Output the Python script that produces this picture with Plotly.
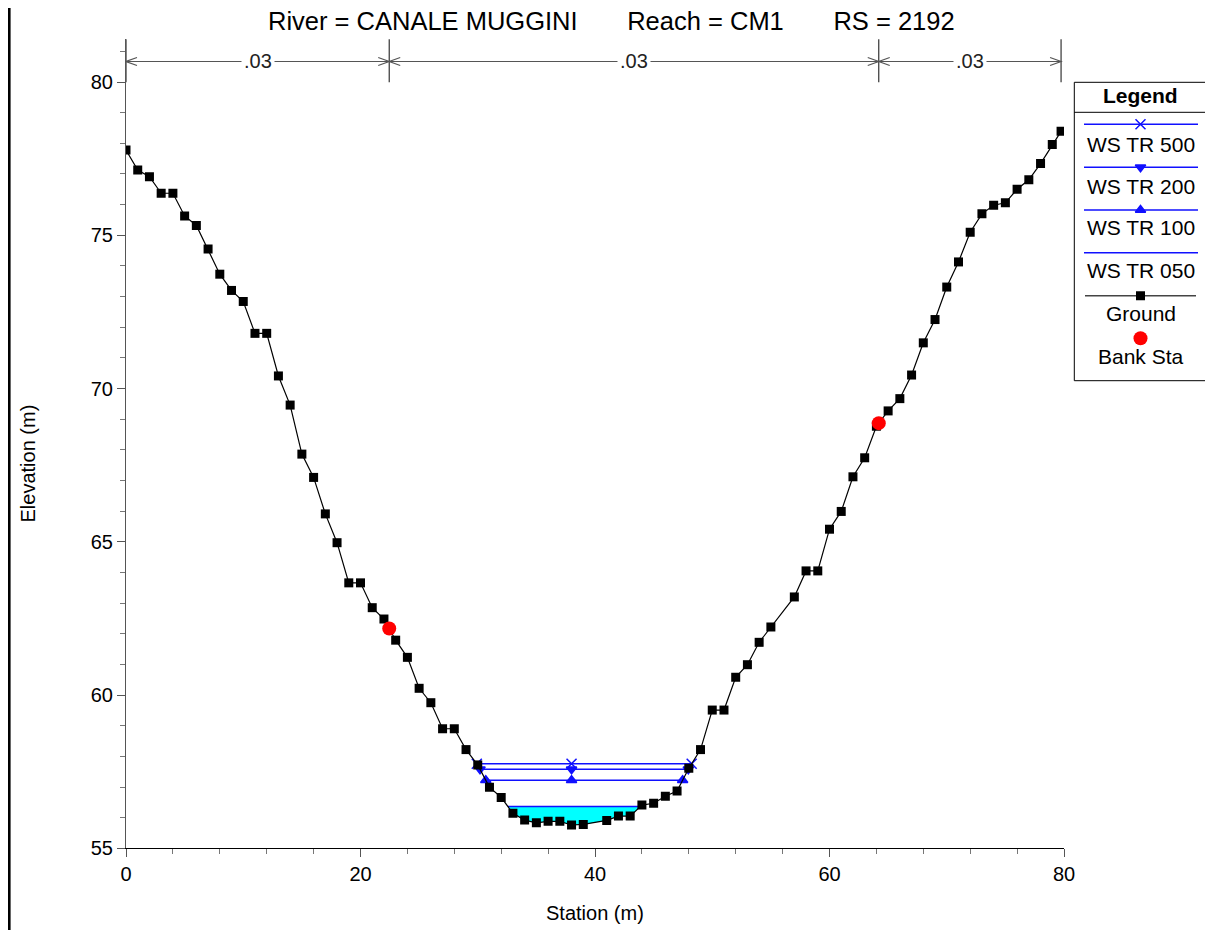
import numpy as np
import plotly.graph_objects as go

# ---------------- data ----------------
ground_sta = [0, 1, 2, 3, 4, 5, 6, 7, 8, 9, 10, 11, 12, 13, 14, 15, 16, 17, 18, 19,
              20, 21, 22, 23, 24, 25, 26, 27, 28, 29, 30, 31, 32, 33, 34, 35, 36, 37, 38, 39,
              41, 42, 43, 44, 45, 46, 47, 48, 49, 50, 51, 52, 53, 54, 55,
              57, 58, 59, 60, 61, 62, 63, 64, 65, 66, 67, 68, 69, 70, 71, 72, 73, 74, 75,
              76, 77, 78, 79, 79.75]
ground_elev = [77.78, 77.13, 76.91, 76.37, 76.37, 75.63, 75.32, 74.55, 73.73, 73.20,
               72.84, 71.80, 71.80, 70.41, 69.46, 67.86, 67.10, 65.91, 64.97, 63.66,
               63.66, 62.85, 62.48, 61.79, 61.23, 60.22, 59.75, 58.90, 58.90, 58.22,
               57.72, 56.99, 56.66, 56.14, 55.92, 55.83, 55.88, 55.88, 55.76, 55.78,
               55.91, 56.05, 56.05, 56.41, 56.47, 56.70, 56.87, 57.61, 58.22, 59.51, 59.51, 60.58, 60.99, 61.72, 62.22,
               63.20, 64.05, 64.05, 65.41, 65.99, 67.12, 67.74, 68.77, 69.27, 69.67, 70.44, 71.49, 72.25, 73.31, 74.13, 75.10, 75.70, 75.98, 76.06,
               76.50, 76.81, 77.34, 77.96, 78.39]

bank_sta = [22.45, 64.2]

ws_names = ["WS TR 500", "WS TR 200", "WS TR 100", "WS TR 050"]
ws_elev = [57.76, 57.58, 57.22, 56.36]
ws_mid_sta = 38.0

n_values = [".03", ".03", ".03"]

title_text = "River = CANALE MUGGINI" + "\u00a0" * 7 + "Reach = CM1" + "\u00a0" * 7 + "RS = 2192"

# ---------------- helpers ----------------
OFF = 8  # page offset of the plot div (default body margin)
PAGE_W, PAGE_H = 1213, 930
W, H = PAGE_W - OFF, PAGE_H - OFF
FONT = "Liberation Sans, Arial, sans-serif"


def pxx(x):
    return (x - OFF) / W


def pyy(y):
    return 1 - (y - OFF) / H


sta = np.array(ground_sta, dtype=float)
z = np.array(ground_elev, dtype=float)


def ws_extent(ws):
    i0 = int(np.argmin(z))
    i = i0
    while i > 0 and z[i] < ws:
        i -= 1
    xl = sta[i] + (z[i] - ws) / (z[i] - z[i + 1]) * (sta[i + 1] - sta[i])
    il = i
    j = i0
    while j < len(z) - 1 and z[j] < ws:
        j += 1
    xr = sta[j - 1] + (ws - z[j - 1]) / (z[j] - z[j - 1]) * (sta[j] - sta[j - 1])
    ir = j
    return xl, xr, il, ir


WS_COLOR = "#1010ff"
ws_symbols = ["x-thin-open", "triangle-down", "triangle-up", None]

fig = go.Figure()

# cyan fill for lowest profile
xl, xr, il, ir = ws_extent(ws_elev[-1])
fx = [xl, xr] + list(sta[il + 1:ir][::-1]) + [xl]
fy = [ws_elev[-1], ws_elev[-1]] + list(z[il + 1:ir][::-1]) + [ws_elev[-1]]
fig.add_trace(go.Scatter(x=fx, y=fy, fill="toself", fillcolor="#00ffff", mode="lines",
                         line=dict(width=0), hoverinfo="skip", showlegend=False))

# water surfaces
for name, ws, sym in zip(ws_names, ws_elev, ws_symbols):
    a, b, _, _ = ws_extent(ws)
    fig.add_trace(go.Scatter(x=[a, b], y=[ws, ws], mode="lines",
                             line=dict(color=WS_COLOR, width=1.5), name=name, showlegend=False))
    if sym:
        fig.add_trace(go.Scatter(x=[a, ws_mid_sta, b], y=[ws, ws, ws], mode="markers",
                                 marker=dict(symbol=sym, size=10 if sym.startswith("x") else 9,
                                             color=WS_COLOR,
                                             line=dict(color=WS_COLOR, width=1.5)),
                                 showlegend=False, hoverinfo="skip"))

# ground
fig.add_trace(go.Scatter(x=ground_sta, y=ground_elev, mode="lines+markers",
                         line=dict(color="black", width=1.2),
                         marker=dict(symbol="square", size=9, color="black"),
                         name="Ground", showlegend=False))

# bank stations
bank_z = np.interp(bank_sta, sta, z)
fig.add_trace(go.Scatter(x=bank_sta, y=bank_z, mode="markers",
                         marker=dict(symbol="circle", size=14, color="#ff0000"),
                         name="Bank Sta", showlegend=False))

# ---------------- legend (drawn in a pixel-space overlay axis) ----------------
LX0, LX1, LY0, LY1 = 1074.3, 1205.7, 82.3, 380.7
CX = 1140.5
leg_line_y = [124.3, 167.3, 210.0, 252.7]
leg_text_y = [144.0, 186.0, 228.0, 270.7]
for name, sym, ly in zip(ws_names, ws_symbols, leg_line_y):
    fig.add_trace(go.Scatter(x=[1084, 1198], y=[ly, ly], mode="lines",
                             line=dict(color=WS_COLOR, width=1.5),
                             xaxis="x2", yaxis="y2", showlegend=False, hoverinfo="skip"))
    if sym:
        fig.add_trace(go.Scatter(x=[CX], y=[ly], mode="markers",
                                 marker=dict(symbol=sym, size=10 if sym.startswith("x") else 9,
                                             color=WS_COLOR, line=dict(color=WS_COLOR, width=1.5)),
                                 xaxis="x2", yaxis="y2", showlegend=False, hoverinfo="skip"))
fig.add_trace(go.Scatter(x=[1085, 1196], y=[295.7, 295.7], mode="lines",
                         line=dict(color="#444444", width=1.5),
                         xaxis="x2", yaxis="y2", showlegend=False, hoverinfo="skip"))
fig.add_trace(go.Scatter(x=[CX], y=[295.7], mode="markers",
                         marker=dict(symbol="square", size=9, color="black"),
                         xaxis="x2", yaxis="y2", showlegend=False, hoverinfo="skip"))
fig.add_trace(go.Scatter(x=[CX], y=[338.3], mode="markers",
                         marker=dict(symbol="circle", size=14, color="#ff0000"),
                         xaxis="x2", yaxis="y2", showlegend=False, hoverinfo="skip"))

annotations = []
shapes = []

LEG_FS = 21
annotations.append(dict(text="<b>Legend</b>", x=pxx(CX), y=pyy(96), xref="paper", yref="paper",
                        showarrow=False, xanchor="center", yanchor="middle",
                        font=dict(family=FONT, size=LEG_FS, color="black")))
for name, ty in zip(ws_names + ["Ground", "Bank Sta"], leg_text_y + [313.3, 356.7]):
    annotations.append(dict(text=name, x=pxx(CX), y=pyy(ty), xref="paper", yref="paper",
                            showarrow=False, xanchor="center", yanchor="middle",
                            font=dict(family=FONT, size=LEG_FS, color="black")))
shapes.append(dict(type="rect", xref="paper", yref="paper", x0=pxx(LX0), x1=pxx(LX1),
                   y0=pyy(LY1), y1=pyy(LY0), line=dict(color="black", width=1)))
shapes.append(dict(type="line", xref="paper", yref="paper", x0=pxx(LX0), x1=pxx(LX1),
                   y0=pyy(112.3), y1=pyy(112.3), line=dict(color="black", width=1)))

# ---------------- n-value band ----------------
n_sta = [ground_sta[0], bank_sta[0], bank_sta[1], ground_sta[-1]]
NTOP, NBOT, NARR = pyy(39.3), pyy(82.3), pyy(61.5)
NCOL = "#555555"
for s in n_sta:
    shapes.append(dict(type="line", xref="x", yref="paper", x0=s, x1=s, y0=NBOT, y1=NTOP,
                       line=dict(color="#333333", width=1.2)))
for k, nv in enumerate(n_values):
    a, b = n_sta[k], n_sta[k + 1]
    shapes.append(dict(type="line", xref="x", yref="paper", x0=a, x1=b, y0=NARR, y1=NARR,
                       line=dict(color=NCOL, width=1.2)))
    shapes.append(dict(type="path", xref="x", yref="paper", xsizemode="pixel", ysizemode="pixel",
                       xanchor=a, yanchor=NARR, path="M 11,4 L 0,0 L 11,-4",
                       line=dict(color=NCOL, width=1.2)))
    shapes.append(dict(type="path", xref="x", yref="paper", xsizemode="pixel", ysizemode="pixel",
                       xanchor=b, yanchor=NARR, path="M -11,4 L 0,0 L -11,-4",
                       line=dict(color=NCOL, width=1.2)))
    annotations.append(dict(text=nv, x=(a + b) / 2, y=NARR, xref="x", yref="paper",
                            showarrow=False, xanchor="center", yanchor="middle",
                            bgcolor="white", borderpad=2,
                            font=dict(family=FONT, size=20, color="#222222")))

# title and axis titles
annotations.append(dict(text=title_text, x=pxx(611), y=pyy(21), xref="paper", yref="paper",
                        showarrow=False, xanchor="center", yanchor="middle",
                        font=dict(family=FONT, size=25.5, color="black")))
annotations.append(dict(text="Station (m)", x=pxx(595), y=pyy(913), xref="paper", yref="paper",
                        showarrow=False, xanchor="center", yanchor="middle",
                        font=dict(family=FONT, size=20, color="black")))
annotations.append(dict(text="Elevation (m)", x=pxx(27.5), y=pyy(464), xref="paper", yref="paper",
                        showarrow=False, xanchor="center", yanchor="middle", textangle=-90,
                        font=dict(family=FONT, size=20, color="black")))

# left window border
shapes.append(dict(type="line", xref="paper", yref="paper", x0=pxx(9.3), x1=pxx(9.3), y0=0, y1=1,
                   line=dict(color="black", width=2.6)))

y_top = 80 + (82.0 - 39.3) / 30.65

fig.update_layout(
    width=W, height=H,
    margin=dict(l=0, r=0, t=0, b=0),
    paper_bgcolor="white", plot_bgcolor="rgba(0,0,0,0)",
    font=dict(family=FONT, size=20, color="black"),
    showlegend=False,
    xaxis=dict(domain=[pxx(126), pxx(1064)], range=[0, 80], tickvals=[0, 20, 40, 60, 80],
               showgrid=False, zeroline=False, showline=True, linecolor="black", linewidth=1.2,
               ticks="outside", ticklen=8, tickcolor="#555555", tickwidth=1.2,
               minor=dict(dtick=4, ticks="outside", ticklen=5, tickcolor="#777777", tickwidth=1.2, showgrid=False),
               tickfont=dict(family=FONT, size=20, color="black"), anchor="y", automargin=False),
    yaxis=dict(domain=[pyy(848.3), pyy(39.3)], range=[55, y_top], tickvals=[55, 60, 65, 70, 75, 80],
               showgrid=False, zeroline=False, showline=True, linecolor="#555555", linewidth=1.2,
               ticks="outside", ticklen=8, tickcolor="#555555", tickwidth=1.2,
               minor=dict(dtick=1, ticks="outside", ticklen=5, tickcolor="#777777", tickwidth=1.2, showgrid=False),
               tickfont=dict(family=FONT, size=20, color="black"), anchor="x", automargin=False),
    xaxis2=dict(domain=[pxx(LX0), pxx(LX1)], range=[LX0, LX1], visible=False, anchor="y2"),
    yaxis2=dict(domain=[pyy(LY1), pyy(LY0)], range=[LY1, LY0], visible=False, anchor="x2"),
    annotations=annotations,
    shapes=shapes,
)

fig.write_html("out.html")
